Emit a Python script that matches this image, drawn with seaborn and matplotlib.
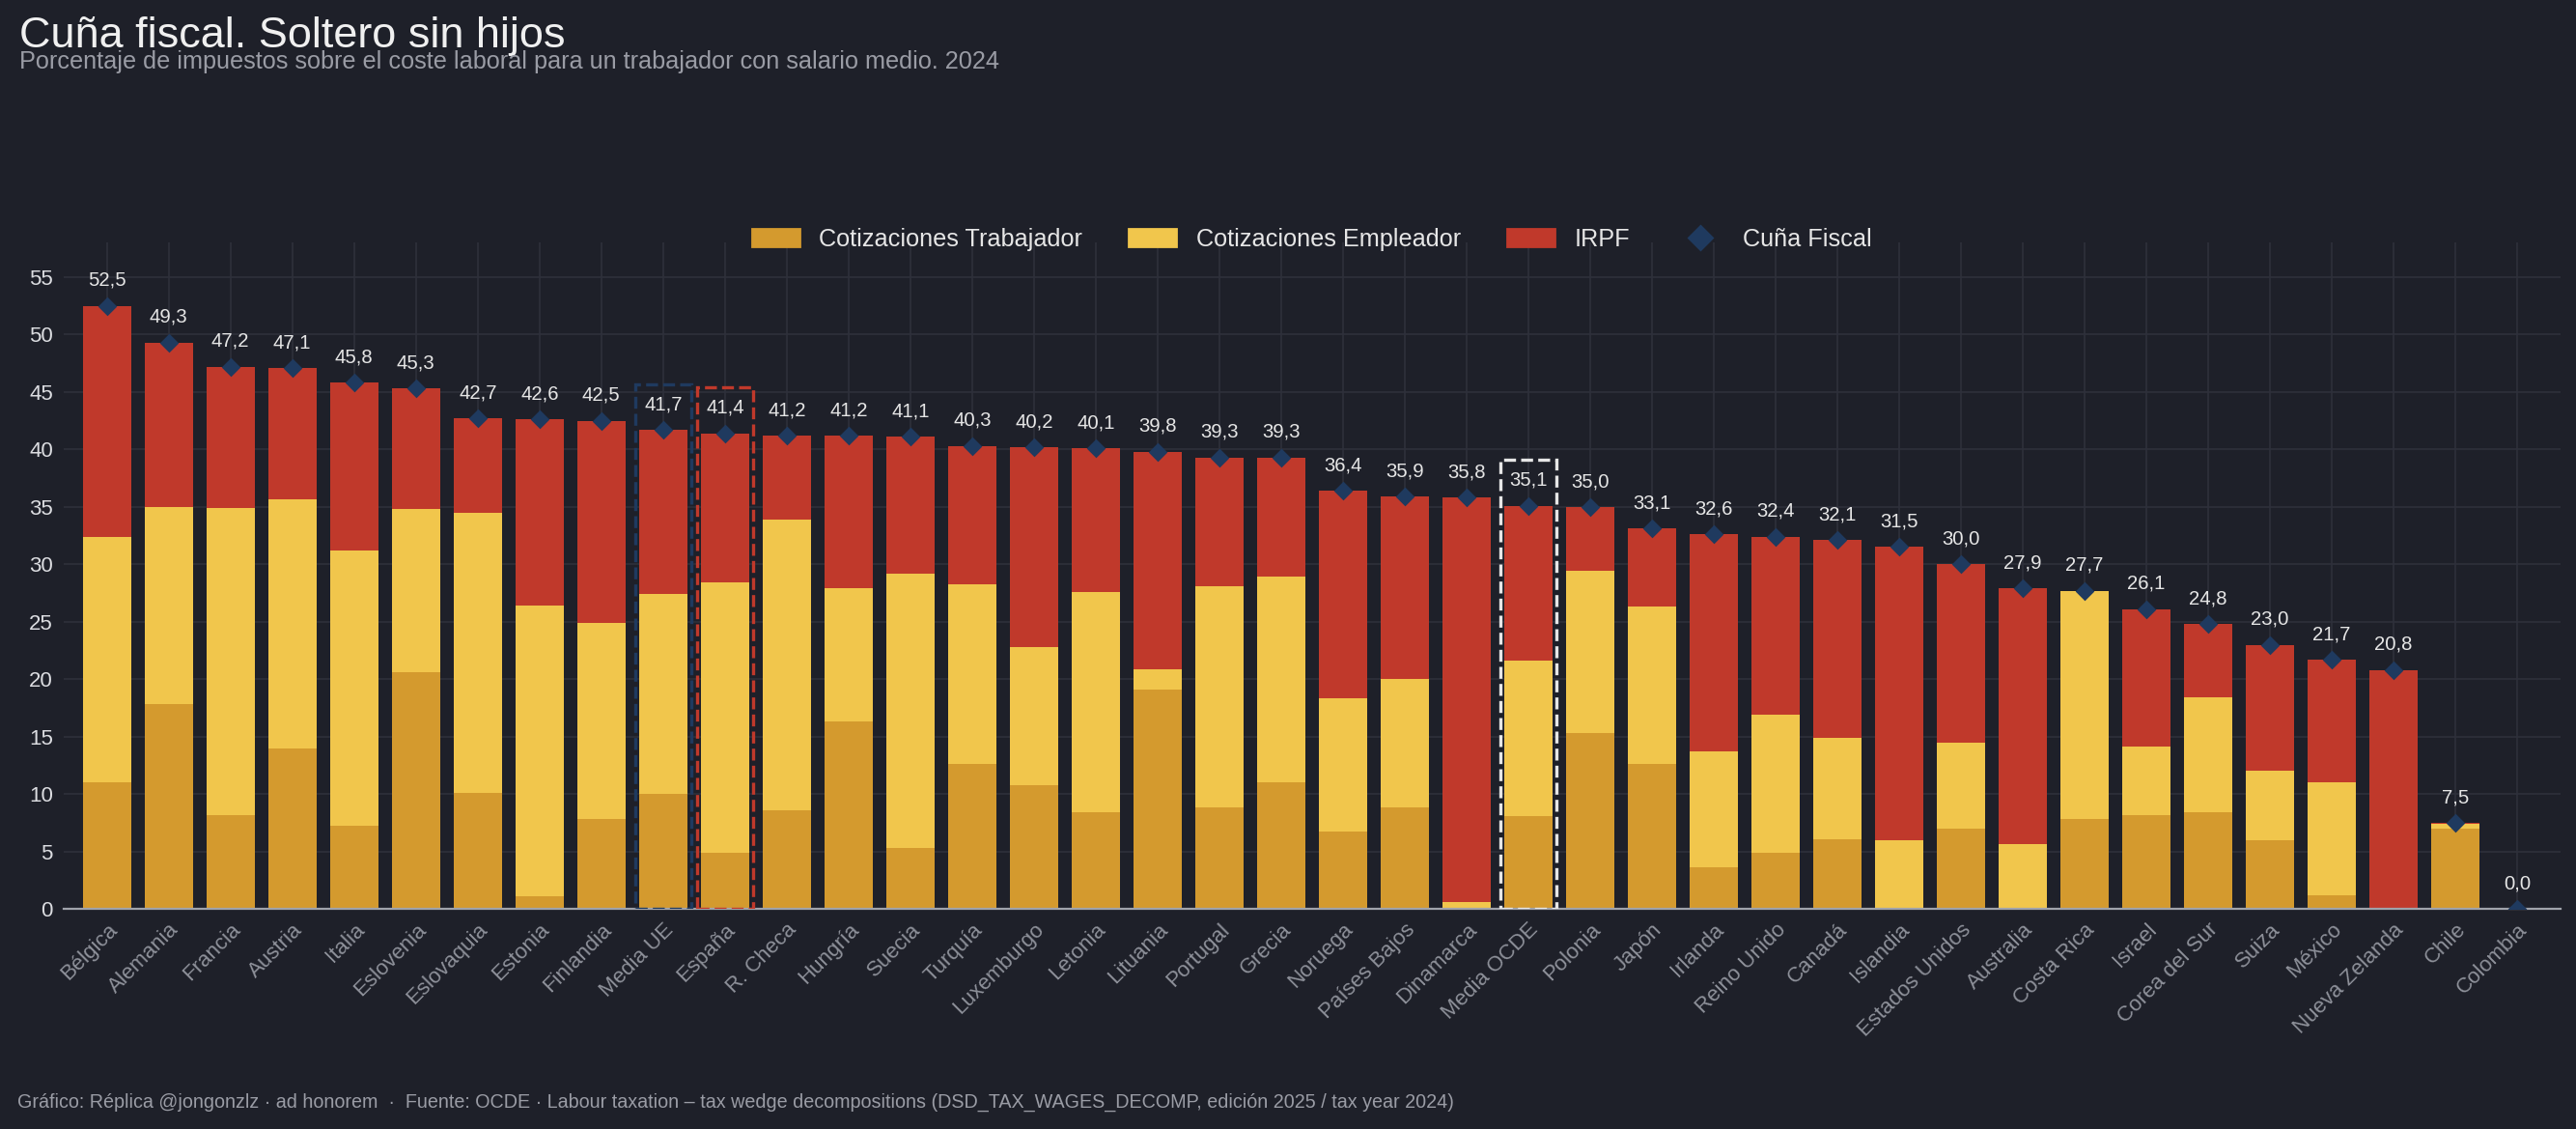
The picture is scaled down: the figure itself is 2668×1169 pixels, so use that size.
import numpy as np
import pandas as pd
import seaborn as sns
import matplotlib
matplotlib.use('Agg')
import matplotlib.pyplot as plt
from matplotlib.patches import Patch, Rectangle
from matplotlib.lines import Line2D

# datos (% del coste laboral)
paises = ['Bélgica', 'Alemania', 'Francia', 'Austria', 'Italia', 'Eslovenia', 'Eslovaquia',
          'Estonia', 'Finlandia', 'Media UE', 'España', 'R. Checa', 'Hungría', 'Suecia',
          'Turquía', 'Luxemburgo', 'Letonia', 'Lituania', 'Portugal', 'Grecia', 'Noruega',
          'Países Bajos', 'Dinamarca', 'Media OCDE', 'Polonia', 'Japón', 'Irlanda',
          'Reino Unido', 'Canadá', 'Islandia', 'Estados Unidos', 'Australia', 'Costa Rica',
          'Israel', 'Corea del Sur', 'Suiza', 'México', 'Nueva Zelanda', 'Chile', 'Colombia']
cot_trabajador = [11.0, 17.8, 8.2, 14.0, 7.2, 20.6, 10.1, 1.1, 7.8, 10.0, 4.9, 8.6, 16.3, 5.3,
                  12.6, 10.8, 8.4, 19.1, 8.8, 11.0, 6.7, 8.8, 0.0, 8.1, 15.3, 12.6, 3.6,
                  4.9, 6.1, 0.1, 7.0, 0.0, 7.8, 8.2, 8.4, 6.0, 1.2, 0.0, 7.0, 0.0]
cot_empleador = [21.4, 17.2, 26.7, 21.7, 24.0, 14.2, 24.4, 25.3, 17.1, 17.4, 23.5, 25.3, 11.6, 23.9,
                 15.7, 12.0, 19.2, 1.8, 19.3, 17.9, 11.6, 11.2, 0.6, 13.5, 14.1, 13.7, 10.1,
                 12.0, 8.8, 5.9, 7.5, 5.6, 19.9, 5.9, 10.0, 6.0, 9.8, 0.0, 0.4, 0.0]
irpf = [20.1, 14.3, 12.3, 11.4, 14.6, 10.5, 8.2, 16.2, 17.6, 14.3, 13.0, 7.3, 13.3, 11.9,
        12.0, 17.4, 12.5, 18.9, 11.2, 10.4, 18.1, 15.9, 35.2, 13.5, 5.6, 6.8, 18.9,
        15.5, 17.2, 25.5, 15.5, 22.3, 0.0, 12.0, 6.4, 11.0, 10.7, 20.8, 0.1, 0.0]

# cajas destacadas
destacados = {'Media UE': '#1f3a5f', 'España': '#c0392b', 'Media OCDE': '#e6e6e6'}

bg = '#1e2029'
grid_col = '#2e303b'
c_trab = '#d49a2e'
c_empl = '#f1c64c'
c_irpf = '#c0392b'
c_cuna = '#1f3a5f'

df = pd.DataFrame({'pais': paises, 'trab': cot_trabajador, 'empl': cot_empleador, 'irpf': irpf})
df['c_empl'] = df['trab'] + df['empl']
df['total'] = df['c_empl'] + df['irpf']

sns.set_theme(style='darkgrid', rc={'axes.facecolor': bg, 'figure.facecolor': bg,
                                    'grid.color': grid_col, 'axes.edgecolor': bg,
                                    'text.color': '#e6e6e6'})
plt.rcParams['font.family'] = ['Liberation Sans', 'DejaVu Sans']

fig = plt.figure(figsize=(13.34, 5.845), dpi=200, facecolor=bg)
ax = fig.add_axes([0.0247, 0.195, 0.9693, 0.590])

# barras apiladas: se pinta primero el acumulado mayor
sns.barplot(data=df, x='pais', y='total', color=c_irpf, saturation=1, width=0.78,
            errorbar=None, ax=ax, linewidth=0)
sns.barplot(data=df, x='pais', y='c_empl', color=c_empl, saturation=1, width=0.78,
            errorbar=None, ax=ax, linewidth=0)
sns.barplot(data=df, x='pais', y='trab', color=c_trab, saturation=1, width=0.78,
            errorbar=None, ax=ax, linewidth=0)

sns.stripplot(data=df, x='pais', y='total', marker='D', size=5.0, jitter=False,
              color=c_cuna, linewidth=0, ax=ax, zorder=4)

for i, v in enumerate(df['total']):
    ax.annotate(f'{v:.1f}'.replace('.', ','), (i, v), xytext=(0, 7.5), textcoords='offset points',
                ha='center', va='baseline', fontsize=7.3, color='#e6e6e6', zorder=6)

for nombre, col in destacados.items():
    i = paises.index(nombre)
    ax.add_patch(Rectangle((i - 0.45, 0), 0.9, df['total'][i] + 4.0, fill=False,
                           edgecolor=col, ls='--', lw=1.2, zorder=5))

ax.set_xlim(-0.7, 39.7)
ax.set_ylim(0, 58)
ax.set_yticks(range(0, 56, 5))
ax.set_xlabel('')
ax.set_ylabel('')
ax.grid(True, axis='both', color=grid_col, lw=0.6)
ax.set_axisbelow(True)
for s in ['top', 'right', 'left']:
    ax.spines[s].set_visible(False)
ax.spines['bottom'].set_color('#a0a3ab')
ax.spines['bottom'].set_linewidth(0.8)
ax.tick_params(axis='y', length=0, pad=4, labelsize=8, labelcolor='#dcdde1')
ax.tick_params(axis='x', length=0, pad=4, labelsize=8, labelcolor='#8e919a')
plt.setp(ax.get_xticklabels(), rotation=45, ha='right', rotation_mode='anchor')

handles = [Patch(color=c_trab), Patch(color=c_empl), Patch(color=c_irpf),
           Line2D([], [], marker='D', ls='', color=c_cuna, markersize=6)]
labels = ['Cotizaciones Trabajador', 'Cotizaciones Empleador', 'IRPF', 'Cuña Fiscal']
leg = ax.legend(handles, labels, loc='center', bbox_to_anchor=(0.5, 1.005), ncol=4,
                frameon=False, fontsize=9.1, handlelength=1.95, handletextpad=0.8,
                columnspacing=1.9)
for t in leg.get_texts():
    t.set_color('#e6e6e6')

fig.text(0.0075, 0.958, 'Cuña fiscal. Soltero sin hijos', fontsize=16.2, color='#f0f0f0')
fig.text(0.0075, 0.939, 'Porcentaje de impuestos sobre el coste laboral para un trabajador con salario medio. 2024',
         fontsize=9.1, color='#9a9ca5')
fig.text(0.0068, 0.019, 'Gráfico: Réplica @jongonzlz · ad honorem  ·  Fuente: OCDE · Labour taxation – '
         'tax wedge decompositions (DSD_TAX_WAGES_DECOMP, edición 2025 / tax year 2024)',
         fontsize=7.1, color='#9a9ca5')

plt.savefig('out.png', dpi=200, facecolor=bg)
